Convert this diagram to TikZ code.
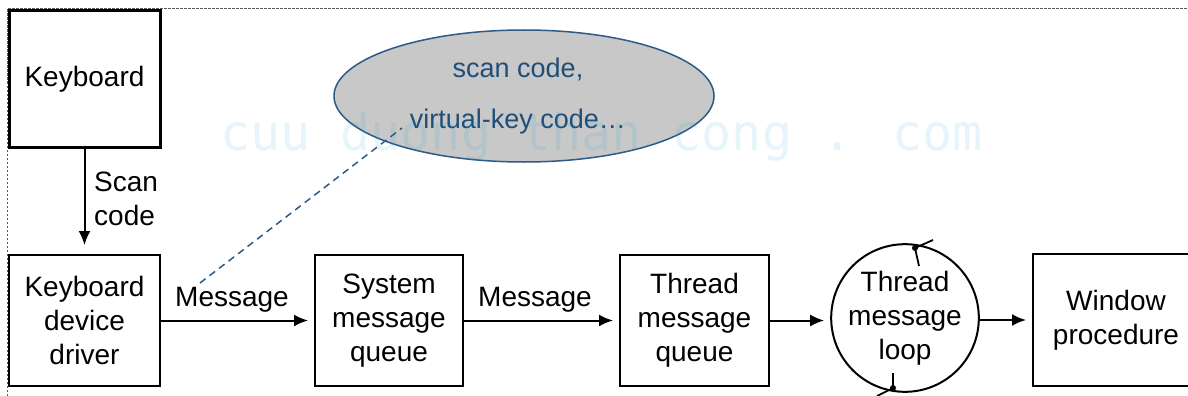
\documentclass[tikz,border=0pt]{standalone}
\usepackage{fontspec}
\setmainfont{Liberation Sans}
\newfontfamily\markfont{DejaVu Sans Mono}
\usetikzlibrary{arrows.meta,shapes.geometric}
\definecolor{noteblue}{HTML}{1F4E79}
\definecolor{noteedge}{HTML}{2E5A87}
\definecolor{notefill}{HTML}{C8C8C8}
\definecolor{markcyan}{RGB}{0,160,220}
\begin{document}
\begin{tikzpicture}[x=1pt,y=-1pt,
  stage/.style={draw, line width=2pt, rectangle, align=center, inner sep=0pt,
    font=\fontsize{28}{34}\selectfont},
  flow/.style={-{Latex[length=14pt,width=12pt]}, line width=2pt, shorten >=6pt},
  lbl/.style={font=\fontsize{28}{34}\selectfont, inner sep=0pt},
  barb/.style={line width=1.8pt}]
\clip (0,0) rectangle (1188,396);
\fill[white] (0,0) rectangle (1188,396);

% dotted frame along the top and left
\draw[gray!70!black, line width=1pt, dash pattern=on 2.5pt off 1.5pt]
  (7,396) -- (7,9) -- (1188,9);

% processing stages
\node[stage, line width=3pt, minimum width=151pt, minimum height=136pt] (kb) at (84.5,79) {Keyboard};
\node[stage, minimum width=151pt, minimum height=131pt] (drv) at (84.5,320.5) {Keyboard\\device\\driver};
\node[stage, minimum width=148pt, minimum height=131pt] (smq) at (389,320.5) {System\\message\\queue};
\node[stage, minimum width=149pt, minimum height=131pt] (tmq) at (694.5,320.5) {Thread\\message\\queue};
\node[stage, circle, minimum size=140pt] (loop) at (905,318) {Thread\\message\\loop};
\node[stage, minimum width=166pt, minimum height=132pt] (wp) at (1116,320) {Window\\procedure};

% connectors
\draw[flow, shorten >=9pt] (kb.south) -- (drv.north);
\node[lbl, anchor=west, align=left] (scan) at (94,199) {Scan\\code};
\draw[flow] (drv.east) -- (smq.west);
\node[lbl, anchor=base] (m1) at (232,306) {Message};
\draw[flow] (smq.east) -- (tmq.west);
\node[lbl, anchor=base] (m2) at (535,306) {Message};
\draw[flow] (tmq.east) -- (tmq.east -| loop.west);
\draw[flow] (loop.east |- wp.west) -- (wp.west);

% loop direction marks on the circle
\draw[barb] ([shift={(28,-78)}]loop.center) -- ([shift={(10,-70)}]loop.center) -- ([shift={(14,-52)}]loop.center);
\fill ([shift={(10,-70)}]loop.center) circle (3pt);
\draw[barb] ([shift={(-28,78)}]loop.center) -- ([shift={(-12,70)}]loop.center) -- ([shift={(-12,55)}]loop.center);
\fill ([shift={(-12,70)}]loop.center) circle (3pt);

% callout
\node[ellipse, draw=noteedge, fill=notefill, line width=1.5pt, minimum width=380pt, minimum height=132pt] (note) at (524,96) {};
\node[text=noteblue, align=center, font=\fontsize{27}{51}\selectfont] (notetext) at (518,96) {scan code,\\virtual-key code…};
\coordinate (calloutfoot) at (200,283);
\coordinate (callouttip) at (402,128);
\draw[noteedge, line width=1.5pt, dash pattern=on 7pt off 5pt] (calloutfoot) -- (callouttip);

% site mark
\node[anchor=base west, inner sep=0pt, text=markcyan, opacity=0.1, font=\markfont\fontsize{50}{50}\selectfont] (mark) at (220,150) {cuu duong than cong . com};
\end{tikzpicture}
\end{document}
